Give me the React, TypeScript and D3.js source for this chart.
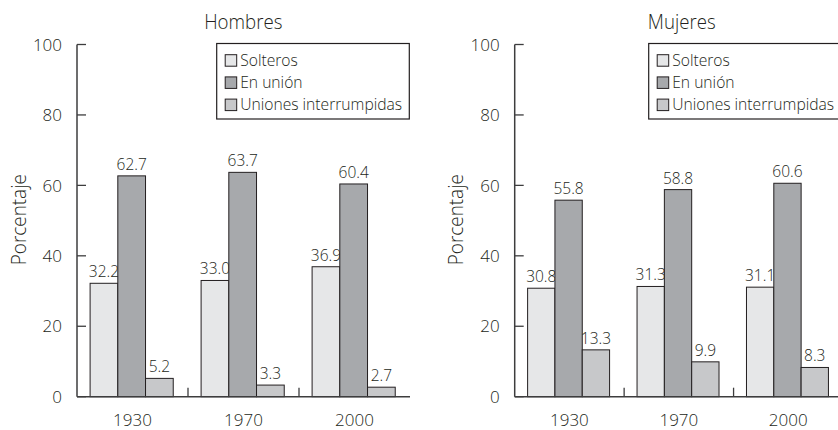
import React from "react";
import * as d3 from "d3";

const years = ["1930", "1970", "2000"];
const seriesNames = ["Solteros", "En unión", "Uniones interrumpidas"];
const seriesColors = ["#e6e7e8", "#a7a9ac", "#c7c8ca"];
const yTicks = [0, 20, 40, 60, 80, 100];

const hombresSolteros = [32.2, 33.0, 36.9];
const hombresUnion = [62.7, 63.7, 60.4];
const hombresInterrumpidas = [5.2, 3.3, 2.7];

const mujeresSolteros = [30.8, 31.3, 31.1];
const mujeresUnion = [55.8, 58.8, 60.6];
const mujeresInterrumpidas = [13.3, 9.9, 8.3];

const W = 838;
const H = 430;
const FONT = "'Open Sans', 'DejaVu Sans', sans-serif";
const WEIGHT = 300;
const INK = "#231f20";
const AXIS = "#3d3d3e";

type PanelProps = {
  title: string;
  series: number[][];
  x0: number;
  x1: number;
  titleX: number;
  legendX: number;
  labelX: number;
};

function Panel({ title, series, x0, x1, titleX, legendX, labelX }: PanelProps) {
  const y = d3.scaleLinear().domain([0, 100]).range([396.7, 44.5]);
  const x = d3.scaleBand<string>().domain(years).range([x0, x1]).paddingInner(0).paddingOuter(0);
  const bw = x.bandwidth();
  const inner = d3
    .scaleBand<number>()
    .domain(d3.range(seriesNames.length))
    .range([bw * 0.118, bw * 0.867])
    .paddingInner(0);
  const fmt = d3.format(".1f");
  const base = y(0);

  return (
    <g fontFamily={FONT} fontWeight={WEIGHT} fill={INK}>
      <g transform={`translate(${titleX},29.3) scale(0.89,1)`}>
        <text x={0} y={0} textAnchor="middle" fontSize={21}>
          {title}
        </text>
      </g>
      <g transform={`translate(${labelX},219.7) rotate(-90) scale(0.9,1)`}>
        <text x={0} y={0} textAnchor="middle" fontSize={21}>
          Porcentaje
        </text>
      </g>
      {/* bars */}
      {years.map((yr, i) => (
        <g key={yr} transform={`translate(${x(yr)},0)`}>
          {series.map((vals, s) => {
            const v = vals[i];
            const bx = inner(s)!;
            const top = y(v);
            return (
              <g key={s}>
                <rect
                  x={bx}
                  y={top}
                  width={inner.bandwidth()}
                  height={base - top}
                  fill={seriesColors[s]}
                  stroke={INK}
                  strokeWidth={1}
                />
                <text x={bx + inner.bandwidth() / 2} y={top - 6} textAnchor="middle" fontSize={15.5}>
                  {fmt(v)}
                </text>
              </g>
            );
          })}
        </g>
      ))}
      {/* y axis */}
      <line x1={x0} x2={x0} y1={y(100)} y2={base} stroke={AXIS} strokeWidth={1.5} />
      {yTicks.map((t) => (
        <g key={t}>
          <line x1={x0} x2={x0 + 9} y1={y(t)} y2={y(t)} stroke={AXIS} strokeWidth={1.3} />
          <text x={x0 - 15} y={y(t)} dy="0.36em" textAnchor="end" fontSize={17}>
            {t}
          </text>
        </g>
      ))}
      {/* x axis */}
      <line x1={x0} x2={x1} y1={base} y2={base} stroke={AXIS} strokeWidth={1.5} />
      {years.slice(1).map((yr) => (
        <line key={yr} x1={x(yr)!} x2={x(yr)!} y1={base} y2={base - 9} stroke={AXIS} strokeWidth={1.3} />
      ))}
      {years.map((yr) => (
        <text key={yr} x={x(yr)! + bw / 2} y={425.5} textAnchor="middle" fontSize={17}>
          {yr}
        </text>
      ))}
      {/* legend */}
      <rect x={legendX} y={43.5} width={192.6} height={75.5} fill="#ffffff" stroke={INK} strokeWidth={1.2} />
      {seriesNames.map((name, s) => (
        <g key={name} transform={`translate(${legendX + 8.5},${65.7 + s * 22.2})`}>
          <rect x={0} y={-11} width={11.5} height={11.5} fill={seriesColors[s]} stroke={INK} strokeWidth={1} />
          <g transform="translate(15,0) scale(0.955,1)">
            <text x={0} y={0} fontSize={16.4}>
              {name}
            </text>
          </g>
        </g>
      ))}
    </g>
  );
}

export default function App() {
  return (
    <div style={{ position: "absolute", left: 0, top: 0, width: W, height: H, background: "#fff" }}>
      <svg width={W} height={H} style={{ display: "block" }}>
        <rect width={W} height={H} fill="#ffffff" />
        <Panel
          title="Hombres"
          series={[hombresSolteros, hombresUnion, hombresInterrumpidas]}
          x0={77}
          x1={410}
          titleX={243.3}
          legendX={216.7}
          labelX={26}
        />
        <Panel
          title="Mujeres"
          series={[mujeresSolteros, mujeresUnion, mujeresInterrumpidas]}
          x0={514.7}
          x1={843}
          titleX={681.7}
          legendX={648.7}
          labelX={462.7}
        />
      </svg>
    </div>
  );
}
